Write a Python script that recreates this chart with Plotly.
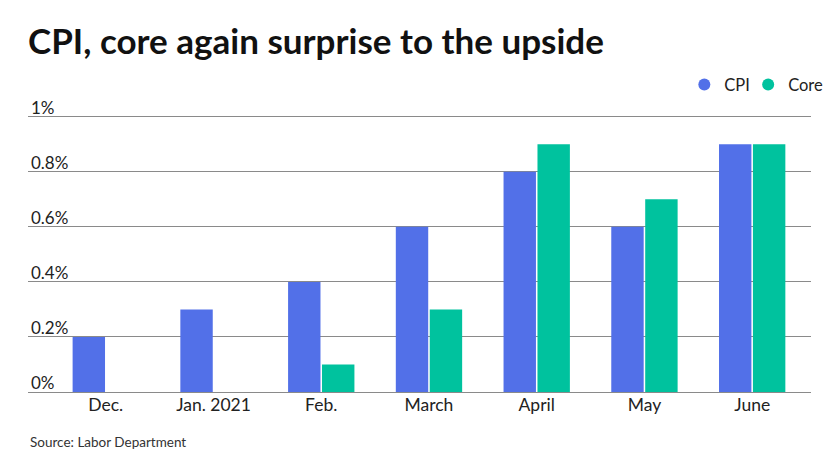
import plotly.graph_objects as go

categories = ["Dec.", "Jan. 2021", "Feb.", "March", "April", "May", "June"]
cpi = [0.2, 0.3, 0.4, 0.6, 0.8, 0.6, 0.9]
core = [0.0, 0.0, 0.1, 0.3, 0.9, 0.7, 0.9]
y_ticks = [0, 0.2, 0.4, 0.6, 0.8, 1.0]
y_labels = ["0%", "0.2%", "0.4%", "0.6%", "0.8%", "1%"]

BLUE = "#5270e8"
TEAL = "#00c29e"
FONT = "Lato, 'Open Sans', sans-serif"

# page body has an 8px default margin, so the figure is drawn 8px smaller
Y_MAX = 1.01
UNIT = 275  # pixels per 1 percentage point
W, H = 832, 464
L, R, B = 20, 27, 80
PH = Y_MAX * UNIT
T = H - B - PH
PW = W - L - R


def px_x(x_target):
    return (x_target - 8 - L) / PW


def px_y(y_target):
    return (H - B - (y_target - 8)) / PH


fig = go.Figure()
fig.add_trace(go.Bar(name="CPI", x=categories, y=cpi, marker=dict(color=BLUE, line=dict(width=0)),
                     showlegend=False))
fig.add_trace(go.Bar(name="Core", x=categories, y=core, marker=dict(color=TEAL, line=dict(width=0)),
                     showlegend=False))
fig.add_trace(go.Scatter(name="CPI", x=[None], y=[None], mode="markers", legend="legend",
                         marker=dict(symbol="circle", size=12, color=BLUE)))
fig.add_trace(go.Scatter(name="Core", x=[None], y=[None], mode="markers", legend="legend2",
                         marker=dict(symbol="circle", size=12, color=TEAL)))

legend_common = dict(orientation="h", xanchor="left", yanchor="middle", y=px_y(85),
                     font=dict(size=16.5, color="#222222"), itemwidth=30,
                     bgcolor="rgba(0,0,0,0)", borderwidth=0)

fig.update_layout(
    width=W, height=H,
    paper_bgcolor="white", plot_bgcolor="white",
    margin=dict(l=L, r=R, t=T, b=B),
    font=dict(family=FONT, color="#222222", size=16),
    title=dict(text="<b>CPI, core again surprise to the upside</b>", x=0, xref="paper", xanchor="left",
               y=1 - (42 - 8) / H, yanchor="middle",
               font=dict(size=35, color="#111111", family=FONT, weight=900)),
    barmode="group", bargap=0.37, bargroupgap=0.045,
    legend=dict(x=px_x(686), **legend_common),
    legend2=dict(x=px_x(750), **legend_common),
    xaxis=dict(type="category", range=[-0.722, 6.546], showgrid=False, showline=False,
               ticks="", tickfont=dict(size=17.5, color="#222222"), fixedrange=True),
    yaxis=dict(range=[0, Y_MAX], tickvals=y_ticks, ticktext=y_labels, showgrid=True,
               gridcolor="#8a8a8a", gridwidth=1, zeroline=True, zerolinecolor="#8a8a8a",
               zerolinewidth=1, showline=False, ticks="", ticklabelposition="inside top",
               ticklabeloverflow="allow", ticklabelshift=3,
               tickfont=dict(size=17, color="#222222")),
    annotations=[dict(text="Source: Labor Department", x=0, xref="paper", xanchor="left",
                      y=px_y(442), yref="paper", yanchor="middle", showarrow=False,
                      font=dict(size=13.5, color="#333333"))],
)

fig.write_html("out.html")
